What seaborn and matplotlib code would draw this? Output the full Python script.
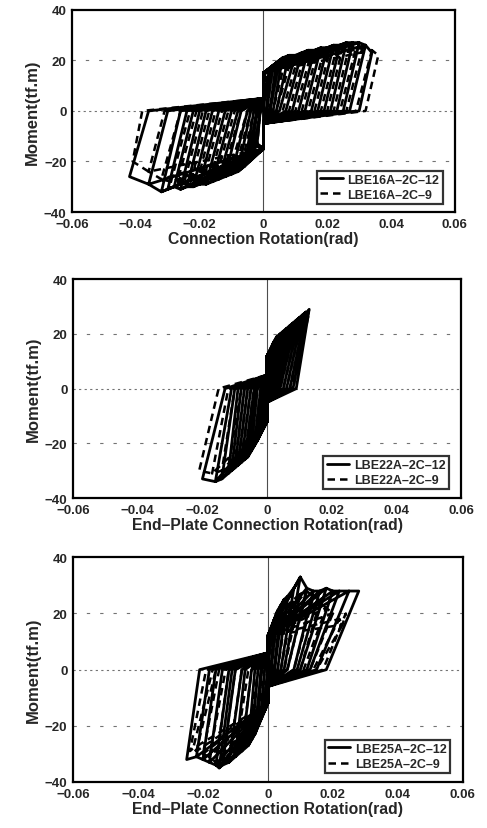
import matplotlib
matplotlib.use('Agg')
import matplotlib.pyplot as plt
import seaborn as sns
import pandas as pd

# Tick labels / axis text
x_ticks = [-0.06, -0.04, -0.02, 0, 0.02, 0.04, 0.06]
x_tick_labels = ['\u22120.06', '\u22120.04', '\u22120.02', '0', '0.02', '0.04', '0.06']
y_ticks = [-40, -20, 0, 20, 40]
y_tick_labels = ['\u221240', '\u221220', '0', '20', '40']
x_titles = ['Connection Rotation(rad)',
            'End\u2013Plate Connection Rotation(rad)',
            'End\u2013Plate Connection Rotation(rad)']
y_title = 'Moment(tf.m)'

# Pinching values per panel: moment at zero rotation on slip band, end of steep branch
slip_m = [5, 5, 6]
knee_m = [15, 12, 12]

# ---- Panel 1: LBE16A ----
p1_12_rot_pos = [0.001, 0.002, 0.003, 0.004, 0.005, 0.006, 0.008, 0.010, 0.012, 0.014, 0.016, 0.018, 0.020, 0.022, 0.024, 0.026, 0.028, 0.030, 0.032, 0.034]
p1_12_m_pos = [12, 16, 18, 19, 20, 21, 22, 22, 23, 24, 24, 25, 25, 26, 26, 27, 27, 27, 26, 23]
p1_12_zero_pos = [0.000, 0.001, 0.001, 0.002, 0.002, 0.003, 0.004, 0.005, 0.007, 0.009, 0.011, 0.013, 0.015, 0.017, 0.019, 0.021, 0.023, 0.025, 0.027, 0.030]
p1_12_rot_neg = [-0.002, -0.003, -0.004, -0.005, -0.006, -0.008, -0.010, -0.012, -0.014, -0.016, -0.018, -0.020, -0.022, -0.024, -0.026, -0.028, -0.030, -0.032, -0.036, -0.042]
p1_12_m_neg = [-13, -16, -18, -20, -22, -24, -25, -26, -27, -28, -29, -29, -30, -30, -31, -30, -31, -32, -29, -26]
p1_12_zero_neg = [-0.001, -0.001, -0.002, -0.002, -0.003, -0.004, -0.005, -0.007, -0.008, -0.010, -0.012, -0.014, -0.016, -0.018, -0.020, -0.022, -0.024, -0.026, -0.030, -0.036]

p1_9_rot_pos = [0.002, 0.003, 0.005, 0.007, 0.009, 0.011, 0.013, 0.015, 0.017, 0.019, 0.021, 0.023, 0.025, 0.027, 0.029, 0.031, 0.034, 0.036]
p1_9_m_pos = [15, 18, 20, 21, 22, 22, 23, 23, 24, 24, 25, 25, 26, 26, 25, 25, 24, 22]
p1_9_zero_pos = [0.001, 0.001, 0.002, 0.003, 0.004, 0.006, 0.008, 0.010, 0.012, 0.014, 0.016, 0.018, 0.020, 0.022, 0.024, 0.026, 0.029, 0.032]
p1_9_rot_neg = [-0.002, -0.003, -0.005, -0.007, -0.009, -0.011, -0.013, -0.015, -0.017, -0.019, -0.021, -0.023, -0.025, -0.027, -0.029, -0.032, -0.036, -0.041]
p1_9_m_neg = [-14, -17, -20, -22, -24, -25, -26, -27, -28, -28, -29, -29, -29, -28, -28, -27, -24, -20]
p1_9_zero_neg = [-0.001, -0.001, -0.002, -0.003, -0.004, -0.005, -0.007, -0.009, -0.011, -0.013, -0.015, -0.017, -0.019, -0.021, -0.023, -0.026, -0.031, -0.038]

# ---- Panel 2: LBE22A ----
p2_12_rot_pos = [0.0005, 0.001, 0.0015, 0.002, 0.003, 0.004, 0.005, 0.006, 0.007, 0.008, 0.009, 0.010, 0.011, 0.012, 0.0125, 0.013]
p2_12_m_pos = [10, 13, 15, 17, 19, 20, 21, 22, 23, 24, 25, 26, 27, 28, 28, 29]
p2_12_zero_pos = [0.0, 0.0, 0.0005, 0.001, 0.001, 0.0015, 0.002, 0.0025, 0.003, 0.0035, 0.004, 0.005, 0.006, 0.007, 0.008, 0.009]
p2_12_rot_neg = [-0.0005, -0.001, -0.002, -0.003, -0.004, -0.005, -0.006, -0.007, -0.008, -0.009, -0.010, -0.011, -0.012, -0.014, -0.016, -0.020]
p2_12_m_neg = [-10, -13, -16, -19, -21, -23, -25, -26, -27, -28, -29, -30, -31, -33, -34, -33]
p2_12_zero_neg = [0.0, -0.0005, -0.001, -0.0015, -0.002, -0.003, -0.0035, -0.004, -0.005, -0.006, -0.007, -0.008, -0.009, -0.010, -0.011, -0.013]

p2_9_rot_pos = [0.001, 0.002, 0.003, 0.004, 0.005, 0.006, 0.007, 0.008, 0.009, 0.010, 0.011, 0.012, 0.0125, 0.013]
p2_9_m_pos = [12, 15, 17, 19, 20, 21, 22, 23, 24, 25, 26, 27, 27, 28]
p2_9_zero_pos = [0.0, 0.0005, 0.001, 0.0015, 0.002, 0.0025, 0.003, 0.0035, 0.004, 0.005, 0.006, 0.007, 0.0075, 0.008]
p2_9_rot_neg = [-0.001, -0.002, -0.003, -0.004, -0.005, -0.006, -0.007, -0.008, -0.009, -0.010, -0.012, -0.014, -0.017, -0.021]
p2_9_m_neg = [-12, -15, -18, -20, -22, -24, -25, -26, -27, -28, -29, -30, -31, -30]
p2_9_zero_neg = [0.0, -0.001, -0.0015, -0.002, -0.003, -0.0035, -0.004, -0.005, -0.006, -0.007, -0.008, -0.010, -0.012, -0.015]

# ---- Panel 3: LBE25A ----
p3_12_rot_pos = [0.0005, 0.001, 0.002, 0.003, 0.004, 0.005, 0.006, 0.008, 0.010, 0.012, 0.014, 0.016, 0.018, 0.020, 0.022, 0.025, 0.028]
p3_12_m_pos = [10, 14, 18, 21, 23, 25, 26, 29, 33, 29, 28, 28, 29, 28, 28, 28, 28]
p3_12_zero_pos = [0.0, 0.0, 0.001, 0.001, 0.002, 0.002, 0.003, 0.004, 0.005, 0.006, 0.008, 0.009, 0.010, 0.012, 0.013, 0.015, 0.018]
p3_12_rot_neg = [-0.0005, -0.001, -0.002, -0.003, -0.004, -0.005, -0.006, -0.008, -0.010, -0.012, -0.014, -0.015, -0.016, -0.018, -0.020, -0.022, -0.025]
p3_12_m_neg = [-10, -13, -17, -20, -23, -25, -27, -29, -31, -33, -34, -35, -34, -33, -32, -31, -32]
p3_12_zero_neg = [0.0, 0.0, -0.001, -0.002, -0.002, -0.003, -0.004, -0.005, -0.007, -0.008, -0.010, -0.011, -0.012, -0.014, -0.016, -0.018, -0.021]

p3_9_rot_pos = [0.001, 0.002, 0.003, 0.004, 0.006, 0.008, 0.010, 0.012, 0.014, 0.016, 0.018, 0.020, 0.022, 0.023, 0.024]
p3_9_m_pos = [13, 17, 19, 21, 23, 25, 27, 28, 26, 24, 22, 20, 18, 16, 20]
p3_9_zero_pos = [0.0, 0.001, 0.001, 0.002, 0.003, 0.004, 0.005, 0.006, 0.008, 0.010, 0.011, 0.013, 0.014, 0.015, 0.017]
p3_9_rot_neg = [-0.001, -0.002, -0.003, -0.004, -0.006, -0.008, -0.010, -0.012, -0.014, -0.016, -0.018, -0.020, -0.022, -0.023, -0.024]
p3_9_m_neg = [-12, -16, -19, -22, -25, -28, -30, -32, -33, -33, -31, -30, -29, -28, -29]
p3_9_zero_neg = [0.0, -0.001, -0.001, -0.002, -0.003, -0.005, -0.006, -0.008, -0.010, -0.012, -0.013, -0.015, -0.016, -0.017, -0.019]

panels = [
    [('LBE16A\u20132C\u201312', p1_12_rot_pos, p1_12_m_pos, p1_12_zero_pos, p1_12_rot_neg, p1_12_m_neg, p1_12_zero_neg),
     ('LBE16A\u20132C\u20139', p1_9_rot_pos, p1_9_m_pos, p1_9_zero_pos, p1_9_rot_neg, p1_9_m_neg, p1_9_zero_neg)],
    [('LBE22A\u20132C\u201312', p2_12_rot_pos, p2_12_m_pos, p2_12_zero_pos, p2_12_rot_neg, p2_12_m_neg, p2_12_zero_neg),
     ('LBE22A\u20132C\u20139', p2_9_rot_pos, p2_9_m_pos, p2_9_zero_pos, p2_9_rot_neg, p2_9_m_neg, p2_9_zero_neg)],
    [('LBE25A\u20132C\u201312', p3_12_rot_pos, p3_12_m_pos, p3_12_zero_pos, p3_12_rot_neg, p3_12_m_neg, p3_12_zero_neg),
     ('LBE25A\u20132C\u20139', p3_9_rot_pos, p3_9_m_pos, p3_9_zero_pos, p3_9_rot_neg, p3_9_m_neg, p3_9_zero_neg)],
]


def build_path(spec, slip, knee):
    # chain the cycle vertices into one loading history;
    # reloading heads for the previous peak first, then the new one
    name, rp, mp, zp, rn, mn, zn = spec
    xs, ys = [0.0], [0.0]
    for i in range(len(rp)):
        xs.append(0.0)
        ys.append(knee)
        if i > 0:
            xs.append(rp[i - 1])
            ys.append(mp[i - 1])
        xs += [rp[i], zp[i], 0.0, 0.0]
        ys += [mp[i], 0.0, -slip, -knee]
        if i > 0:
            xs.append(rn[i - 1])
            ys.append(mn[i - 1])
        xs += [rn[i], zn[i], 0.0]
        ys += [mn[i], 0.0, slip]
    return pd.DataFrame({'rot': xs, 'moment': ys})


sns.set_style('white')
plt.rcParams['font.family'] = ['Liberation Sans', 'DejaVu Sans']
plt.rcParams['font.weight'] = 'bold'

fig = plt.figure(figsize=(4.87, 8.29), dpi=100)
rects = [[0.148, 0.743, 0.786, 0.244],
         [0.150, 0.398, 0.797, 0.264],
         [0.150, 0.0555, 0.800, 0.271]]

for k, rect in enumerate(rects):
    ax = fig.add_axes(rect)
    for yv in [20, -20]:
        ax.axhline(yv, color='0.45', lw=0.8, ls=(0, (3, 9)), zorder=0)
    ax.axhline(0, color='0.45', lw=0.8, ls=(0, (2, 3)), zorder=0)
    ax.axvline(0, color='0.3', lw=0.8, zorder=0)

    for s, spec in enumerate(panels[k]):
        df = build_path(spec, slip_m[k], knee_m[k])
        sns.lineplot(data=df, x='rot', y='moment', sort=False, estimator=None,
                     color='black', lw=2.0 if s == 0 else 1.8, ax=ax, label=spec[0],
                     linestyle='-' if s == 0 else (0, (3, 2)))

    ax.set_xlim(-0.06, 0.06)
    ax.set_ylim(-40, 40)
    ax.set_xticks(x_ticks)
    ax.set_xticklabels(x_tick_labels, fontsize=9.5, fontweight='bold')
    ax.set_yticks(y_ticks)
    ax.set_yticklabels(y_tick_labels, fontsize=9.5, fontweight='bold')
    ax.tick_params(length=0, pad=4)
    ax.set_xlabel(x_titles[k], fontsize=11.3, fontweight='bold', labelpad=1)
    ax.set_ylabel(y_title, fontsize=12, fontweight='bold', labelpad=3)
    for sp in ax.spines.values():
        sp.set_linewidth(1.6)
        sp.set_color('black')

    leg = ax.legend(loc='lower right', bbox_to_anchor=(0.968, 0.04), fontsize=9,
                    frameon=True, fancybox=False, handlelength=1.8,
                    borderpad=0.25, labelspacing=0.25, handletextpad=0.4,
                    borderaxespad=0.0)
    leg.get_frame().set_edgecolor('black')
    leg.get_frame().set_linewidth(1.6)
    for t in leg.get_texts():
        t.set_fontweight('bold')

fig.savefig('out.png', dpi=100)
